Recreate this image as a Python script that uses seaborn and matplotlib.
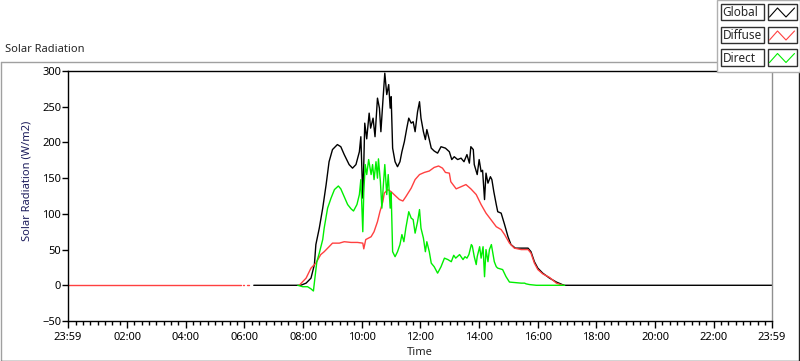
import numpy as np
import pandas as pd
import matplotlib
matplotlib.use('Agg')
import matplotlib.pyplot as plt
from matplotlib.lines import Line2D
from matplotlib.patches import Rectangle
from matplotlib.ticker import FixedLocator
import seaborn as sns

################################################
## data (time in minutes after midnight, values in W/m2)
series_names = ['Global', 'Diffuse', 'Direct']
series_colors = ['#000000', '#FF4040', '#00EE00']

global_min = [379, 475, 486, 496, 503, 506, 513, 520, 527, 533, 540, 550, 557, 564, 574, 581,
              588, 595, 598, 602, 604, 606, 610, 615, 618, 623, 627, 632, 636, 639, 643, 647,
              651, 655, 658, 660, 663, 668, 673, 678, 682, 687, 692, 696, 701, 705, 709, 714,
              718, 721, 726, 730, 733, 738, 742, 748, 755, 762, 771, 779, 784, 789, 796, 803,
              809, 815, 820, 823, 828, 830, 836, 840, 844, 847, 851, 854, 858, 863, 866, 870,
              875, 878, 885, 892, 899, 905, 914, 940, 946, 953, 960, 970, 984, 998, 1011, 1014,
              1439]
global_val = [0, 0, 3, 10, 29, 57, 80, 108, 141, 173, 190, 197, 194, 183, 169, 164,
              169, 187, 208, 122, 170, 227, 205, 241, 220, 234, 208, 262, 248, 215, 257, 297,
              267, 281, 248, 264, 192, 173, 166, 173, 187, 201, 220, 234, 227, 229, 215, 243,
              257, 234, 215, 204, 218, 204, 192, 188, 185, 194, 192, 187, 176, 180, 176, 178,
              173, 183, 171, 194, 190, 169, 155, 176, 159, 161, 120, 157, 143, 152, 148, 131,
              113, 103, 101, 85, 68, 57, 52, 52, 47, 33, 24, 17, 10, 4.5, 0.7, 0,
              0]

# night readings of the diffuse sensor (a few short pieces before dawn)
diffuse_night_min = [-1, 352]
diffuse_night_val = [0, 0]
diffuse_dash1_min = [356, 360]
diffuse_dash1_val = [0, 0]
diffuse_dash2_min = [366, 369]
diffuse_dash2_val = [0, 0]
diffuse_min = [472, 486, 496, 506, 516, 523, 533, 540, 554, 564, 578, 591, 602, 604, 608, 619,
               625, 632, 637, 643, 646, 653, 660, 666, 677, 684, 690, 701, 709, 718, 728, 738,
               748, 757, 765, 771, 779, 782, 793, 803, 813, 823, 834, 844, 854, 864, 875, 885,
               892, 902, 912, 926, 940, 946, 953, 960, 970, 984, 998, 1011]
diffuse_val = [0, 10, 24, 31, 43, 47, 54, 59, 59, 61, 60, 60, 59, 51, 64, 68,
               75, 89, 103, 117, 129, 134, 131, 127, 120, 118, 124, 136, 148, 155, 158, 160,
               165, 167, 164, 158, 157, 145, 135, 138, 141, 135, 127, 113, 101, 92, 82, 78,
               71, 59, 52, 50, 50, 45, 31, 22, 16, 11, 3, 0]

direct_min = [469, 479, 489, 496, 501, 504, 508, 513, 520, 523, 530, 537, 544, 552, 557, 564,
              571, 578, 583, 590, 595, 598, 602, 604, 607, 610, 614, 619, 622, 625, 629, 632,
              634, 638, 641, 644, 647, 651, 654, 658, 660, 663, 668, 673, 678, 682, 686, 690,
              696, 701, 705, 709, 714, 718, 721, 726, 730, 733, 738, 742, 748, 755, 762, 769,
              776, 783, 788, 792, 800, 807, 811, 815, 819, 824, 826, 830, 834, 836, 841, 844,
              848, 851, 854, 858, 861, 865, 868, 871, 875, 878, 888, 895, 902, 926, 933, 936,
              943, 957, 1015]
direct_val = [0, -2, -2, -5, -8, 10, 33, 45, 64, 80, 108, 122, 134, 139, 135, 124,
              113, 107, 104, 113, 127, 148, 75, 130, 169, 155, 176, 155, 169, 148, 173, 150,
              177, 145, 108, 140, 169, 127, 155, 108, 130, 47, 40, 47, 57, 71, 61, 80,
              103, 94, 92, 73, 89, 106, 80, 66, 47, 61, 47, 31, 26, 17, 26, 38,
              36, 33, 42, 38, 43, 36, 40, 38, 43, 57, 55, 40, 29, 40, 54, 38,
              54, 12, 50, 33, 50, 57, 45, 33, 26, 24, 22, 12, 4.5, 3, 3, 2,
              1, 0, 0]

x_tick_min = [-1, 120, 240, 360, 480, 600, 720, 840, 960, 1080, 1200, 1320, 1439]
x_tick_labels = ['23:59', '02:00', '04:00', '06:00', '08:00', '10:00', '12:00',
                 '14:00', '16:00', '18:00', '20:00', '22:00', '23:59']
y_ticks = [-50, 0, 50, 100, 150, 200, 250, 300]

################################################
## long table for seaborn
parts = [
    pd.DataFrame({'Minute': global_min, 'Value': global_val, 'Series': 'Global', 'Segment': 'g1'}),
    pd.DataFrame({'Minute': diffuse_night_min, 'Value': diffuse_night_val, 'Series': 'Diffuse', 'Segment': 'd0'}),
    pd.DataFrame({'Minute': diffuse_dash1_min, 'Value': diffuse_dash1_val, 'Series': 'Diffuse', 'Segment': 'd0a'}),
    pd.DataFrame({'Minute': diffuse_dash2_min, 'Value': diffuse_dash2_val, 'Series': 'Diffuse', 'Segment': 'd0b'}),
    pd.DataFrame({'Minute': diffuse_min, 'Value': diffuse_val, 'Series': 'Diffuse', 'Segment': 'd1'}),
    pd.DataFrame({'Minute': direct_min, 'Value': direct_val, 'Series': 'Direct', 'Segment': 'r1'}),
]
df = pd.concat(parts, ignore_index=True)

sns.set_style('white')
plt.rcParams['font.family'] = ['Noto Sans', 'DejaVu Sans']

W, H = 800, 361
fig = plt.figure(figsize=(W / 100, H / 100), dpi=100)
ax = fig.add_axes([68 / W, 40 / H, 704 / W, 250 / H])

sns.lineplot(data=df, x='Minute', y='Value', hue='Series', units='Segment',
             estimator=None, sort=False, hue_order=series_names,
             palette=dict(zip(series_names, series_colors)),
             linewidth=1, legend=False, ax=ax)

ax.set_xlim(-1, 1439)
ax.set_ylim(-50, 300)
ax.set_xticks(x_tick_min)
ax.set_xticklabels(x_tick_labels)
ax.xaxis.set_minor_locator(FixedLocator([m for m in range(15, 1439, 15) if m % 120 != 0]))
ax.set_yticks(y_ticks)

ax.tick_params(axis='y', which='major', left=True, length=4, width=1, pad=1,
               labelsize=8, colors='black', direction='out')
ax.tick_params(axis='x', which='major', bottom=True, length=5, width=1, pad=3,
               labelsize=8, colors='black', direction='out')
ax.tick_params(axis='x', which='minor', bottom=True, length=3, width=1, color='black')

for side, col in [('left', 'black'), ('top', 'black'), ('bottom', 'black'), ('right', '#909090')]:
    ax.spines[side].set_visible(True)
    ax.spines[side].set_color(col)
    ax.spines[side].set_linewidth(1)

ax.set_xlabel('Time', fontsize=8)
ax.xaxis.set_label_coords(0.5, -0.105)
ax.set_ylabel('Solar Radiation (W/m2)', fontsize=8, color='#1c1c5c')
ax.yaxis.set_label_coords(-0.05, 0.56)
ax.grid(False)

def fx(px):
    return px / W

def fy(py):
    return 1 - py / H

# outer panel frame
fig.add_artist(Line2D([fx(0.5), fx(0.5)], [fy(361), fy(62)], color='#a0a0a0', lw=1))
fig.add_artist(Line2D([fx(0.5), fx(799)], [fy(62), fy(62)], color='#a0a0a0', lw=1))
fig.add_artist(Line2D([fx(799), fx(799)], [fy(62), fy(360.5)], color='#202020', lw=1))
fig.add_artist(Line2D([fx(0.5), fx(799)], [fy(360.5), fy(360.5)], color='#202020', lw=1))
fig.text(fx(5), fy(50), 'Solar Radiation', fontsize=8, ha='left', va='center')

# legend panel
fig.add_artist(Rectangle((fx(717), fy(72)), fx(83), 72 / H, facecolor='white',
                         edgecolor='#b0b0b0', lw=1, zorder=5))
row_tops = [4, 27, 49.5]
for name, col, top in zip(series_names, series_colors, row_tops):
    h = 16
    fig.add_artist(Rectangle((fx(721), fy(top + h)), fx(43), h / H, facecolor='white',
                             edgecolor='#303030', lw=1, zorder=6))
    fig.add_artist(Rectangle((fx(768), fy(top + h)), fx(29), h / H, facecolor='white',
                             edgecolor='#303030', lw=1, zorder=6))
    fig.text(fx(722.5), fy(top + h / 2 + 0.5), name, fontsize=8.5, ha='left', va='center', zorder=7)
    zx = [769.5, 777.5, 786, 794.5]
    zy = [top + 13, top + 4, top + 13, top + 4]
    fig.add_artist(Line2D([fx(v) for v in zx], [fy(v) for v in zy], color=col, lw=0.8, zorder=7))

fig.savefig('out.png', dpi=100)
